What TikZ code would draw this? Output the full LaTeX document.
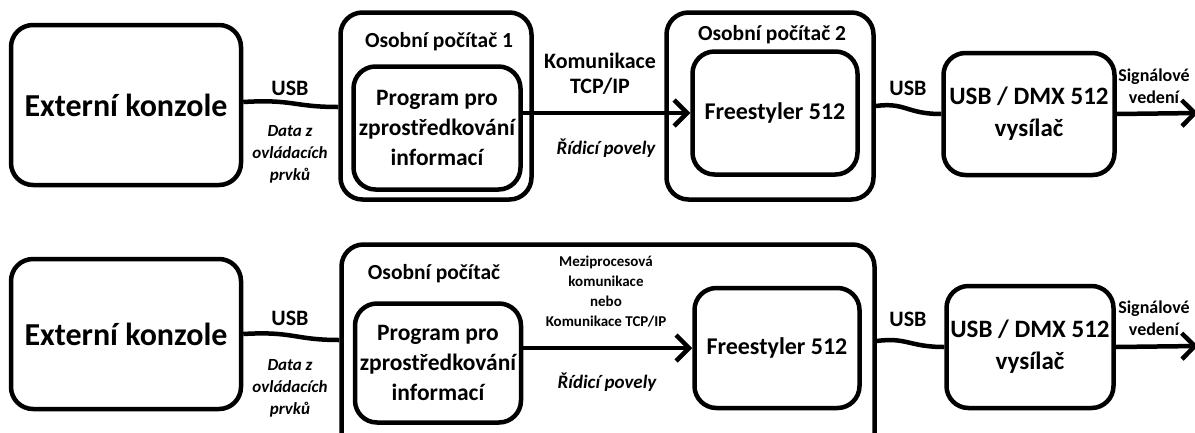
\documentclass[tikz,border=0pt]{standalone}
\usepackage{fontspec}
\setmainfont{Carlito}
\usetikzlibrary{arrows.meta}

\begin{document}
\begin{tikzpicture}[x=1pt,y=-1pt,
  >={Straight Barb[length=13pt,width=26pt]},
  blok/.style={draw,line width=4.5pt,rounded corners=22pt,inner sep=0pt,align=center},
  spoj/.style={line width=4.5pt},
  velke/.style={font=\bfseries\fontsize{32}{36}\selectfont},
  stredni/.style={font=\bfseries\fontsize{23.5}{30}\selectfont},
  nadpis/.style={font=\bfseries\fontsize{21.5}{26}\selectfont,align=center},
  kurziva/.style={font=\bfseries\itshape\fontsize{17}{22}\selectfont,align=center},
  maly/.style={font=\bfseries\fontsize{15}{20}\selectfont,align=center}]

  % okraje obrazku
  \useasboundingbox (0,0) rectangle (1195,432);
  \clip (0,0) rectangle (1195,432);

  % ---- horni varianta: dva pocitace ----
  \node[blok,velke,minimum width=230pt,minimum height=160pt] (ext1) at (126,105) {Externí konzole};
  \node[blok,minimum width=191pt,minimum height=187pt] (pc1) at (436,106) {};
  \node[nadpis] (pc1t) at (439,42) {Osobní počítač 1};
  \node[blok,stredni,minimum width=167pt,minimum height=123pt] (prog1) at (437,128) {Program pro\\zprostředkování\\informací};
  \node[blok,minimum width=207pt,minimum height=187pt] (pc2) at (770,106) {};
  \node[nadpis] (pc2t) at (772,35) {Osobní počítač 2};
  \node[blok,font=\bfseries\fontsize{24}{30}\selectfont,minimum width=165pt,minimum height=123pt] (fs1) at (775,113) {Freestyler 512};
  \node[blok,font=\bfseries\fontsize{25}{32}\selectfont,minimum width=171pt,minimum height=122pt] (dmx1) at (1029,114) {USB / DMX 512\\vysílač};
  \coordinate (out1) at (1198,113);

  % kabely USB (mirne zvlnene)
  \draw[spoj] ([yshift=3pt]ext1.east) .. controls +(50,-3) and +(-45,0) .. ([yshift=-1pt]pc1.west);
  \draw[spoj] (pc2.east) .. controls +(30,-4) and +(-35,0) .. (dmx1.west);

  % sipky
  \draw[spoj,->] (prog1.east |- fs1.west) -- (fs1.west);
  \draw[spoj,->] (dmx1.east) -- (out1);

  % popisky
  \node[nadpis,font=\bfseries\fontsize{22}{26}\selectfont] (usb1) at (290,88) {USB};
  \node[kurziva] (data1) at (290,154) {Data z\\ovládacích\\prvků};
  \node[nadpis,font=\bfseries\fontsize{22}{25}\selectfont] (kom1) at (600,74) {Komunikace\\TCP/IP};
  \node[kurziva,font=\bfseries\itshape\fontsize{19}{22}\selectfont] (rid1) at (606,148) {Řídicí povely};
  \node[nadpis,font=\bfseries\fontsize{22}{26}\selectfont] (usb3) at (908,88) {USB};
  \node[nadpis,font=\bfseries\fontsize{18}{22}\selectfont] (sig1) at (1154,86) {Signálové\\vedení};

  % ---- dolni varianta: jeden pocitac ----
  \node[blok,velke,minimum width=230pt,minimum height=150pt] (ext2) at (126,334) {Externí konzole};
  \node[blok,minimum width=533pt,minimum height=225pt] (pc3) at (608,357) {};
  \node[nadpis] (pc3t) at (434,274) {Osobní počítač};
  \node[blok,stredni,minimum width=166pt,minimum height=119pt] (prog2) at (438,363) {Program pro\\zprostředkování\\informací};
  \node[blok,font=\bfseries\fontsize{24}{30}\selectfont,minimum width=165pt,minimum height=120pt] (fs2) at (777,348) {Freestyler 512};
  \node[blok,font=\bfseries\fontsize{25}{32}\selectfont,minimum width=167pt,minimum height=122pt] (dmx2) at (1030,347) {USB / DMX 512\\vysílač};
  \coordinate (out2) at (1198,346);

  % kabely USB
  \draw[spoj] (ext2.east) .. controls +(50,-3) and +(-45,0) .. ([yshift=-6pt]ext2.east -| pc3.west);
  \draw[spoj] ([yshift=6pt]dmx2.west -| pc3.east) .. controls +(30,-4) and +(-35,0) .. (dmx2.west);

  % sipky
  \draw[spoj,->] (prog2.east |- fs2.west) -- (fs2.west);
  \draw[spoj,->] (dmx2.east) -- (out2);

  % popisky
  \node[nadpis,font=\bfseries\fontsize{22}{26}\selectfont] (usb2) at (290,318) {USB};
  \node[kurziva] (data2) at (290,388) {Data z\\ovládacích\\prvků};
  \node[maly] (mezi) at (606,292) {Meziprocesová\\komunikace\\nebo\\Komunikace TCP/IP};
  \node[kurziva,font=\bfseries\itshape\fontsize{19}{22}\selectfont] (rid2) at (607,382) {Řídicí povely};
  \node[nadpis,font=\bfseries\fontsize{22}{26}\selectfont] (usb4) at (908,319) {USB};
  \node[nadpis,font=\bfseries\fontsize{18}{22}\selectfont] (sig2) at (1154,318) {Signálové\\vedení};

\end{tikzpicture}
\end{document}
